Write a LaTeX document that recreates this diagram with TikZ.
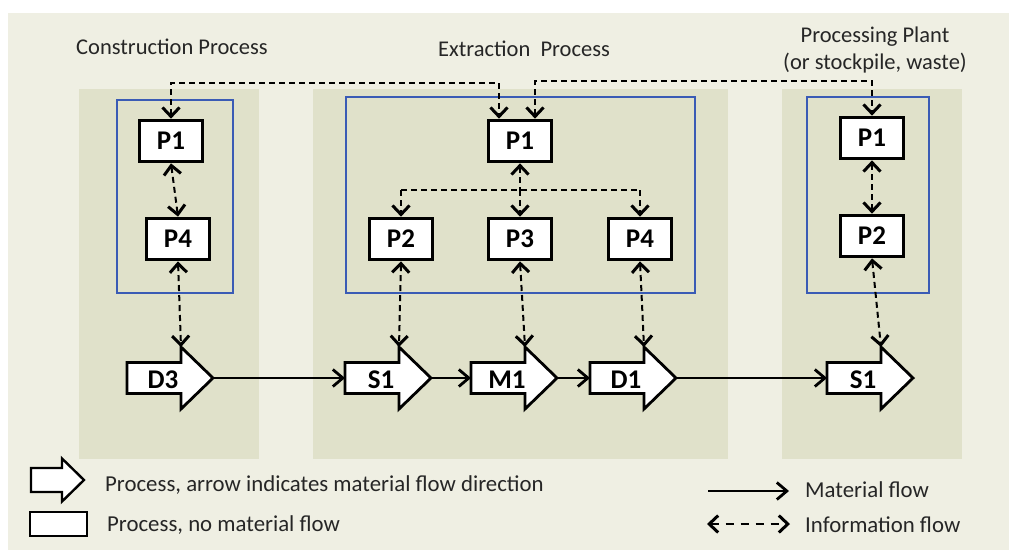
\documentclass[tikz,border=0pt]{standalone}
\usepackage{fontspec}
\setmainfont{Carlito}
\usetikzlibrary{arrows.meta}
\definecolor{outerbg}{HTML}{EFEFE3}
\definecolor{panelbg}{HTML}{E0E1CA}
\definecolor{blueline}{HTML}{3A5BB5}
\definecolor{txt}{HTML}{262626}
\newcommand\blkarrow[3]{%
  \coordinate (#1-w) at (#2,378);
  \coordinate (#1-n) at (#2+54,347);
  \coordinate (#1-tip) at (#2+86,378);
  \draw[blkline] (#2,362.5) -- (#2+54,362.5) -- (#1-n) -- (#1-tip) -- (#2+54,409) -- (#2+54,393.5) -- (#2,393.5) -- cycle;
  \node[blklabel] (#1) at (#2+36,380) {#3};
}
\begin{document}
\begin{tikzpicture}[x=1pt,y=-1pt,
  pbox/.style={draw=black, fill=white, line width=3.2pt, minimum width=63.5pt, minimum height=41.5pt, inner sep=0pt, font=\fontsize{27}{30}\selectfont\bfseries},
  blkline/.style={draw=black, fill=white, line width=2.8pt, line join=miter},
  blklabel/.style={inner sep=0pt, font=\fontsize{27}{30}\selectfont\bfseries},
  bluebox/.style={draw=blueline, line width=1.2pt},
  titletext/.style={inner sep=0pt, anchor=base, text=txt, font=\fontsize{22.5}{27}\selectfont},
  legtext/.style={inner sep=0pt, anchor=base west, text=txt, font=\fontsize{22.8}{27}\selectfont},
  tipb/.tip={Straight Barb[length=9pt,width=17pt,line width=3pt]},
  matflow/.style={line width=2.4pt, -{Straight Barb[length=10pt,width=17pt,line width=2.8pt]}},
  dashl/.style={line width=2pt, dash pattern=on 6pt off 4pt},
  infoflow/.style={dashl, tipb-tipb},
  infostart/.style={dashl, tipb-},
  infoend/.style={dashl, -tipb}
]
\useasboundingbox (0,0) rectangle (1009,550);
\fill[outerbg] (8,13) rectangle (1009,550);
% panels
\fill[panelbg] (79,89) rectangle (259,459);
\fill[panelbg] (313,89) rectangle (728,459);
\fill[panelbg] (782,89) rectangle (962,459);
% blue frames
\draw[bluebox] (117,100) rectangle (233,293);
\draw[bluebox] (346,97) rectangle (695,293);
\draw[bluebox] (807,97) rectangle (929,293);
% titles
\node[titletext] (tc) at (172,54) {Construction Process};
\node[titletext] (te) at (524,56) {Extraction\ \ Process};
\node[titletext] (tp1) at (875,42) {Processing Plant};
\node[titletext] (tp2) at (875,69) {(or stockpile, waste)};
% boxes
\node[pbox] (lP1) at (171,141) {P1};
\node[pbox] (lP4) at (178,239) {P4};
\node[pbox] (mP1) at (520,141) {P1};
\node[pbox] (mP2) at (401,239) {P2};
\node[pbox] (mP3) at (520,239) {P3};
\node[pbox] (mP4) at (640,239) {P4};
\node[pbox] (rP1) at (872,138) {P1};
\node[pbox] (rP2) at (872,236) {P2};
% block arrows
\blkarrow{D3}{127}{D3}
\blkarrow{S1}{345}{S1}
\blkarrow{M1}{471}{M1}
\blkarrow{D1}{590}{D1}
\blkarrow{S1b}{827}{S1}
% material flow
\draw[matflow] (D3-tip) -- (S1-w);
\draw[matflow] (S1-tip) -- (M1-w);
\draw[matflow] (M1-tip) -- (D1-w);
\draw[matflow] (D1-tip) -- (S1b-w);
% information flow
\coordinate (ta) at (0,83);
\coordinate (tb) at (0,81);
\coordinate (br) at (0,190);
\draw[infoflow] (lP1.north) -- (lP1.north |- ta) -| ([xshift=-21pt]mP1.north);
\draw[infoflow] ([xshift=15pt]mP1.north) -- ([xshift=15pt]mP1.north |- tb) -| (rP1.north);
\draw[infoflow] (lP1.south) -- (lP4.north);
\draw[infoflow] (lP4.south) -- (D3-n);
\draw[infostart] (mP1.south) -- (mP1.south |- br);
\draw[dashl] (mP2.north |- br) -- (mP4.north |- br);
\draw[infoend] (mP2.north |- br) -- (mP2.north);
\draw[infoend] (mP3.north |- br) -- (mP3.north);
\draw[infoend] (mP4.north |- br) -- (mP4.north);
\draw[infoflow] (mP2.south) -- (S1-n);
\draw[infoflow] (mP3.south) -- (M1-n);
\draw[infoflow] (mP4.south) -- (D1-n);
\draw[infoflow] (rP1.south) -- (rP2.north);
\draw[infoflow] (rP2.south) -- (S1b-n);
% legend
\coordinate (legA) at (31,480);
\draw[blkline, line width=2.4pt] (legA) ++(0,-12) -- ++(31,0) -- ++(0,-9.5) -- ++(22,21.5) -- ++(-22,21.5) -- ++(0,-9.5) -- ++(-31,0) -- cycle;
\node[draw=black, fill=white, line width=2.4pt, minimum width=57pt, minimum height=24pt, inner sep=0pt] (legB) at (58.5,524) {};
\node[legtext] (lt1) at (105,491) {Process, arrow indicates material flow direction};
\node[legtext] (lt2) at (107,531) {Process, no material flow};
\node[legtext] (lt3) at (805,497) {Material flow};
\node[legtext] (lt4) at (805,532) {Information flow};
\coordinate (lm1) at (708,491);
\coordinate (lm2) at (789,491);
\draw[matflow] (lm1) -- (lm2);
\coordinate (li1) at (707,524);
\coordinate (li2) at (790,524);
\draw[infoflow, dash pattern=on 8pt off 7pt] (li1) -- (li2);
\end{tikzpicture}
\end{document}
